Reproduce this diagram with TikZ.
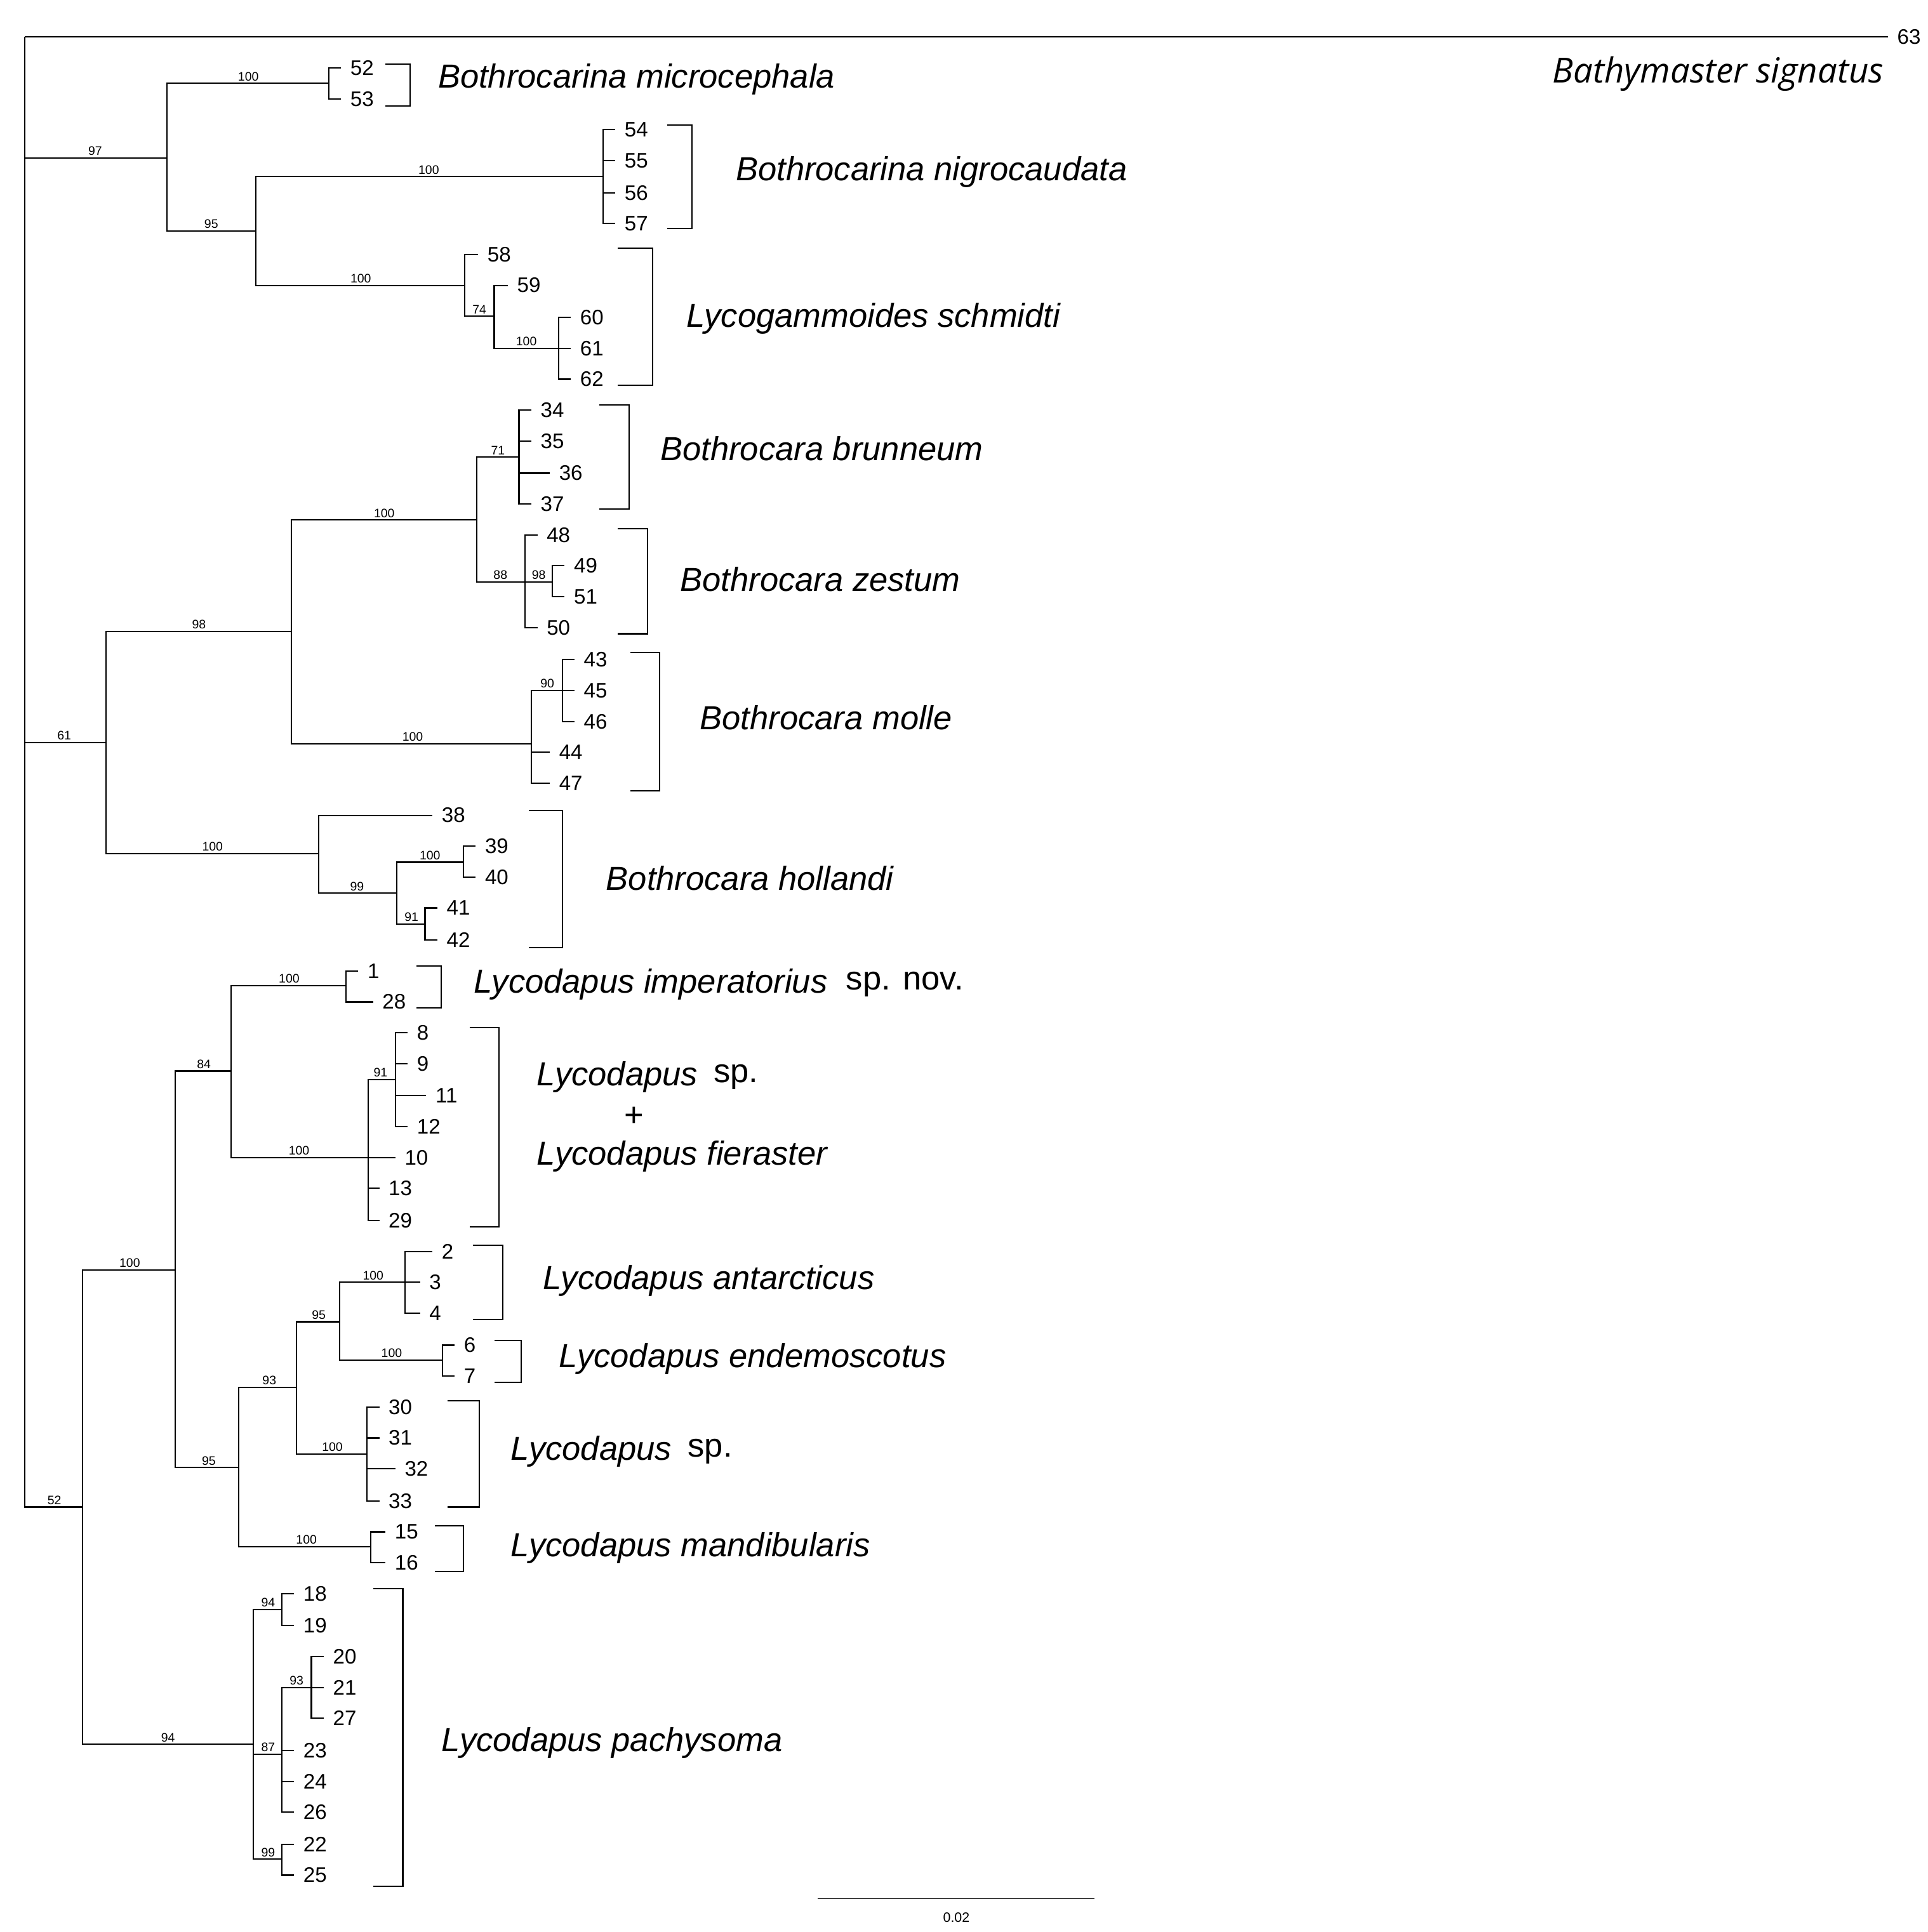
\documentclass[tikz,border=0pt]{standalone}
\usepackage{fontspec}
\setmainfont{Liberation Sans}
\newfontfamily\osans{Open Sans}
\begin{document}
\begin{tikzpicture}[x=1pt,y=-1pt,line width=1.1pt,
  num/.style={font=\fontsize{17}{17}\selectfont, anchor=west, inner sep=0pt, xshift=7pt},
  bs/.style={font=\fontsize{10}{10}\selectfont, anchor=south, inner sep=1.5pt},
  sp/.style={font=\fontsize{27}{27}\selectfont\itshape, anchor=west, inner sep=0pt},
  spn/.style={font=\fontsize{27}{27}\selectfont, anchor=west, inner sep=0pt},
  brk/.style={line width=1.1pt}]
\useasboundingbox (0,0) rectangle (1560,1564);
\newcommand\Eb[5]{\draw (#1,#2) |- (#3,#4);}
\newcommand\Lf[5]{\draw (#1,#2) |- (#3,#4); \node[num] at (#3,#4) {#5};}
\newcommand\Bs[3]{\node[bs] at (#1,#2) {#3};}
\newcommand\Brk[4]{\draw[brk] (#1,#2) -- (#4,#2) -- (#4,#3) -- (#1,#3);}
% root
\draw (20,30) -- (20,1220);
\draw (20,30) -- (1528,30); \node[num] at (1528,30) {63};
\Eb{20}{30}{135}{128}{} \Bs{77}{128}{97}
\Eb{20}{30}{86}{601}{} \Bs{52}{601}{61}
\Eb{20}{30}{67}{1220}{} \Bs{44}{1220}{52}
% node97
\Eb{135}{128}{266}{67.5}{} \Bs{201}{67.5}{100}
\Lf{266}{67.5}{276}{55}{52} \Lf{266}{67.5}{276}{80}{53}
\Eb{135}{128}{207}{187}{} \Bs{171}{187}{95}
\Eb{207}{187}{488}{143}{} \Bs{347}{143}{100}
\Lf{488}{143}{498}{105}{54} \Lf{488}{143}{498}{130}{55}
\Lf{488}{143}{498}{156}{56} \Lf{488}{143}{498}{181}{57}
\Eb{207}{187}{376}{231}{} \Bs{292}{231}{100}
\Lf{376}{231}{387}{206}{58}
\Eb{376}{231}{400}{256}{} \Bs{388}{256}{74}
\Lf{400}{256}{411}{231}{59}
\Eb{400}{256}{452}{282}{} \Bs{426}{282}{100}
\Lf{452}{282}{462}{257}{60} \Lf{452}{282}{462}{282}{61} \Lf{452}{282}{462}{307}{62}
% node61
\Eb{86}{601}{236}{511}{} \Bs{161}{511}{98}
\Eb{236}{511}{386}{421}{} \Bs{311}{421}{100}
\Eb{386}{421}{420}{370}{} \Bs{403}{370}{71}
\Lf{420}{370}{430}{332}{34} \Lf{420}{370}{430}{357}{35}
\Lf{420}{370}{445}{383}{36} \Lf{420}{370}{430}{408}{37}
\Eb{386}{421}{425}{471}{} \Bs{405}{471}{88}
\Lf{425}{471}{435}{433}{48}
\Eb{425}{471}{447}{471}{} \Bs{436}{471}{98}
\Lf{447}{471}{457}{458}{49} \Lf{447}{471}{457}{483}{51}
\Lf{425}{471}{435}{508}{50}
\Eb{236}{511}{430}{602}{} \Bs{334}{602}{100}
\Eb{430}{602}{455}{559}{} \Bs{443}{559}{90}
\Lf{455}{559}{465}{534}{43} \Lf{455}{559}{465}{559}{45} \Lf{455}{559}{465}{584}{46}
\Lf{430}{602}{445}{609}{44} \Lf{430}{602}{445}{634}{47}
\Eb{86}{601}{258}{691}{} \Bs{172}{691}{100}
\Lf{258}{691}{350}{660}{38}
\Eb{258}{691}{321}{723}{} \Bs{289}{723}{99}
\Eb{321}{723}{375}{698}{} \Bs{348}{698}{100}
\Lf{375}{698}{385}{685}{39} \Lf{375}{698}{385}{710}{40}
\Eb{321}{723}{344}{748}{} \Bs{333}{748}{91}
\Lf{344}{748}{354}{735}{41} \Lf{344}{748}{354}{761}{42}
% node52
\Eb{67}{1220}{142}{1028}{} \Bs{105}{1028}{100}
\Eb{142}{1028}{187}{867}{} \Bs{165}{867}{84}
\Eb{187}{867}{280}{798}{} \Bs{234}{798}{100}
\Lf{280}{798}{290}{786}{1} \Lf{280}{798}{302}{811}{28}
\Eb{187}{867}{298}{937}{} \Bs{242}{937}{100}
\Eb{298}{937}{320}{874}{} \Bs{308}{874}{91}
\Lf{320}{874}{330}{836}{8} \Lf{320}{874}{330}{861}{9}
\Lf{320}{874}{345}{887}{11} \Lf{320}{874}{330}{912}{12}
\Lf{298}{937}{320}{937}{10} \Lf{298}{937}{307}{962}{13} \Lf{298}{937}{307}{988}{29}
\Eb{142}{1028}{193}{1188}{} \Bs{169}{1188}{95}
\Eb{193}{1188}{240}{1123}{} \Bs{218}{1123}{93}
\Eb{240}{1123}{275}{1070}{} \Bs{258}{1070}{95}
\Eb{275}{1070}{328}{1038}{} \Bs{302}{1038}{100}
\Lf{328}{1038}{350}{1013}{2} \Lf{328}{1038}{340}{1038}{3} \Lf{328}{1038}{340}{1063}{4}
\Eb{275}{1070}{358}{1101}{} \Bs{317}{1101}{100}
\Lf{358}{1101}{368}{1089}{6} \Lf{358}{1101}{368}{1114}{7}
\Eb{240}{1123}{297}{1177}{} \Bs{269}{1177}{100}
\Lf{297}{1177}{307}{1139}{30} \Lf{297}{1177}{307}{1164}{31}
\Lf{297}{1177}{320}{1189}{32} \Lf{297}{1177}{307}{1215}{33}
\Eb{193}{1188}{300}{1252}{} \Bs{248}{1252}{100}
\Lf{300}{1252}{312}{1240}{15} \Lf{300}{1252}{312}{1265}{16}
\Eb{67}{1220}{205}{1412}{} \Bs{136}{1412}{94}
\Eb{205}{1412}{228}{1303}{} \Bs{217}{1303}{94}
\Lf{228}{1303}{238}{1290}{18} \Lf{228}{1303}{238}{1316}{19}
\Eb{205}{1412}{228}{1420}{} \Bs{217}{1420}{87}
\Eb{228}{1420}{252}{1366}{} \Bs{240}{1366}{93}
\Lf{252}{1366}{262}{1341}{20} \Lf{252}{1366}{262}{1366}{21} \Lf{252}{1366}{262}{1391}{27}
\Lf{228}{1420}{238}{1417}{23} \Lf{228}{1420}{238}{1442}{24} \Lf{228}{1420}{238}{1467}{26}
\Eb{205}{1412}{228}{1505}{} \Bs{217}{1505}{99}
\Lf{228}{1505}{238}{1493}{22} \Lf{228}{1505}{238}{1518}{25}
% brackets & names
\node[anchor=east,inner sep=0pt,font=\osans\fontsize{28}{28}\selectfont\itshape] at (1525,60) {Bathymaster signatus};
\Brk{312}{52}{86}{332} \node[sp] at (354,64) {Bothrocarina microcephala};
\Brk{540}{101}{185}{560} \node[sp] at (595,139) {Bothrocarina nigrocaudata};
\Brk{500}{201}{312}{528} \node[sp] at (555,258) {Lycogammoides schmidti};
\Brk{485}{328}{412}{509} \node[sp] at (534,363) {Bothrocara brunneum};
\Brk{500}{428}{513}{524} \node[sp] at (550,469) {Bothrocara zestum};
\Brk{510}{528}{640}{534} \node[sp] at (566,581) {Bothrocara molle};
\Brk{428}{656}{767}{455} \node[sp] at (490,711) {Bothrocara hollandi};
\Brk{337}{782}{816}{357} \node[sp] (imp) at (383,797) {Lycodapus imperatorius}; \node[spn] at ([xshift=14pt]imp.east) {sp. nov.};
\Brk{380}{832}{993}{404} \node[sp] (lsp) at (434,872) {Lycodapus}; \node[spn] at ([xshift=12pt]lsp.east) {sp.};
\node[spn,anchor=center] at (513,904) {+};
\node[sp] at (434,936) {Lycodapus fieraster};
\Brk{383}{1008}{1068}{407} \node[sp] at (439,1037) {Lycodapus antarcticus};
\Brk{400}{1085}{1119}{422} \node[sp] at (452,1100) {Lycodapus endemoscotus};
\Brk{362}{1134}{1220}{388} \node[sp] (lsp2) at (413,1175) {Lycodapus}; \node[spn] at ([xshift=12pt]lsp2.east) {sp.};
\Brk{352}{1235}{1272}{375} \node[sp] at (413,1253) {Lycodapus mandibularis};
\Brk{302}{1286}{1527}{326} \node[sp] at (357,1411) {Lycodapus pachysoma};
% scale bar
\draw[line width=0.8pt] (662,1537) -- (886,1537);
\node[font=\fontsize{11}{11}\selectfont] at (774,1552) {0.02};
\end{tikzpicture}
\end{document}
